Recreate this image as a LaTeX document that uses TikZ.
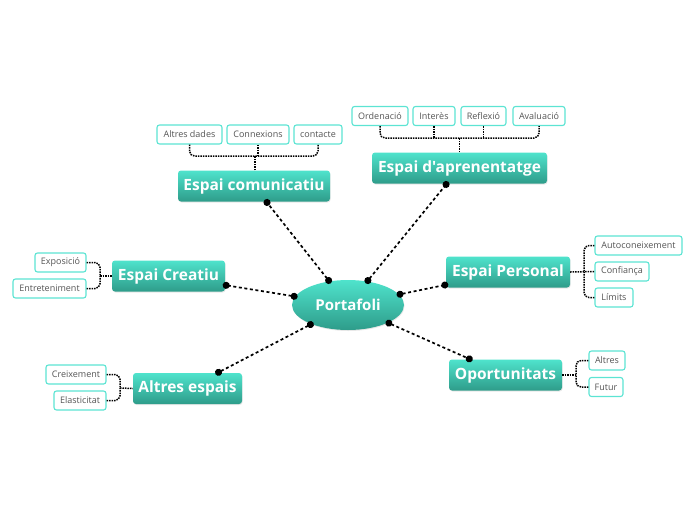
\documentclass[tikz,border=0pt]{standalone}
\usepackage{fontspec}
\setmainfont{Open Sans}[Ligatures=TeXOff]
\usetikzlibrary{arrows.meta,shadows,calc,shapes.geometric}
\definecolor{tealtop}{HTML}{4FE3CC}
\definecolor{tealbot}{HTML}{2E9C8A}
\definecolor{subborder}{HTML}{5CE4D3}
\definecolor{subtext}{HTML}{555555}
\tikzset{
  topic/.style={rectangle, rounded corners=3pt, top color=tealtop, bottom color=tealbot,
    text=white, font=\bfseries\fontsize{15.5}{17}\selectfont, minimum height=31pt, inner xsep=0pt,
    drop shadow={opacity=0.18, shadow xshift=0.6pt, shadow yshift=-1pt}},
  central/.style={ellipse, top color=tealtop, bottom color=tealbot, text=white,
    font=\bfseries\fontsize{15}{17}\selectfont, minimum width=112pt, minimum height=50pt, inner sep=0pt,
    drop shadow={opacity=0.18, shadow xshift=0.6pt, shadow yshift=-1pt}},
  sub/.style={rectangle, rounded corners=2.5pt, draw=subborder, line width=1.1pt, fill=white,
    text=subtext, font=\fontsize{9}{10}\selectfont, minimum height=19pt, inner xsep=0pt},
  mainlink/.style={line width=1.7pt, dash pattern=on 3pt off 2.6pt,
    {Circle[length=7pt]}-{Circle[length=7pt]}, shorten <=-2.5pt, shorten >=-2.5pt},
  brk/.style={line width=1.5pt, densely dotted, rounded corners=5pt},
}
\begin{document}
\begin{tikzpicture}[x=1pt,y=-1pt]
\useasboundingbox (0,0) rectangle (696,520);
% central
\node[central] (port) at (348,305) {Portafoli};
% topics
\node[topic, minimum width=152pt] (comm) at (254,186) {Espai comunicatiu};
\node[topic, minimum width=175pt] (apr) at (459.5,168) {Espai d'aprenentatge};
\node[topic, minimum width=113pt] (creat) at (168.5,276) {Espai Creatiu};
\node[topic, minimum width=124pt] (pers) at (508,272) {Espai Personal};
\node[topic, minimum width=109pt] (altr) at (187.5,388.5) {Altres espais};
\node[topic, minimum width=113pt] (oport) at (505.5,375) {Oportunitats};
% main links
\draw[mainlink] (port) -- (comm);
\draw[mainlink] (port) -- (apr);
\draw[mainlink] (port) -- (creat);
\draw[mainlink] (port) -- (pers);
\draw[mainlink] (port) -- (altr);
\draw[mainlink] (port) -- (oport);
% subtopics: comunicatiu
\node[sub, minimum width=65pt] (ad) at (189.5,134.5) {Altres dades};
\node[sub, minimum width=62pt] (cx) at (258,134.5) {Connexions};
\node[sub, minimum width=48pt] (ct) at (318,134.5) {contacte};
\coordinate (j1) at (255,156);
\draw[brk] (ad.south) |- (j1) -| (ct.south);
\draw[brk] (cx.south) -- (cx.south |- j1);
\draw[brk] (comm.north -| j1) -- (j1);
% aprenentatge
\node[sub, minimum width=56pt] (ord) at (380,116) {Ordenació};
\node[sub, minimum width=42pt] (int) at (434,116) {Interès};
\node[sub, minimum width=45pt] (ref) at (483.5,116) {Reflexió};
\node[sub, minimum width=52pt] (ava) at (539,116) {Avaluació};
\coordinate (j2) at (459.5,138);
\draw[brk] (ord.south) |- (j2) -| (ava.south);
\draw[brk] (int.south) -- (int.south |- j2);
\draw[brk] (ref.south) -- (ref.south |- j2);
\draw[brk] (apr.north) -- (j2);
% creatiu
\node[sub, minimum width=51pt] (expo) at (60.5,262.5) {Exposició};
\node[sub, minimum width=73pt] (entr) at (49.5,288.5) {Entreteniment};
\coordinate (j3) at (100,276);
\draw[brk] (expo.east) -| (j3);
\draw[brk] (entr.east) -| (j3);
\draw[brk] (j3) -- (creat.west);
% personal
\node[sub, minimum width=87pt] (auto) at (638.5,245.5) {Autoconeixement};
\node[sub, minimum width=54pt] (conf) at (622,271.5) {Confiança};
\node[sub, minimum width=38pt] (lim) at (614,297.5) {Límits};
\coordinate (j4) at (584,272);
\draw[brk] (auto.west) -| (j4);
\draw[brk] (lim.west) -| (j4);
\draw[brk] (pers.east) -- (conf.west);
% altres espais
\node[sub, minimum width=60pt] (crei) at (76,374.5) {Creixement};
\node[sub, minimum width=52pt] (elas) at (80,400.5) {Elasticitat};
\coordinate (j5) at (120,388);
\draw[brk] (crei.east) -| (j5);
\draw[brk] (elas.east) -| (j5);
\draw[brk] (j5) -- (altr.west);
% oportunitats
\node[sub, minimum width=36pt] (alt) at (607,360.5) {Altres};
\node[sub, minimum width=34pt] (fut) at (606,387) {Futur};
\coordinate (j6) at (576,375);
\draw[brk] (alt.west) -| (j6);
\draw[brk] (fut.west) -| (j6);
\draw[brk] (oport.east) -- (j6);
\end{tikzpicture}
\end{document}
